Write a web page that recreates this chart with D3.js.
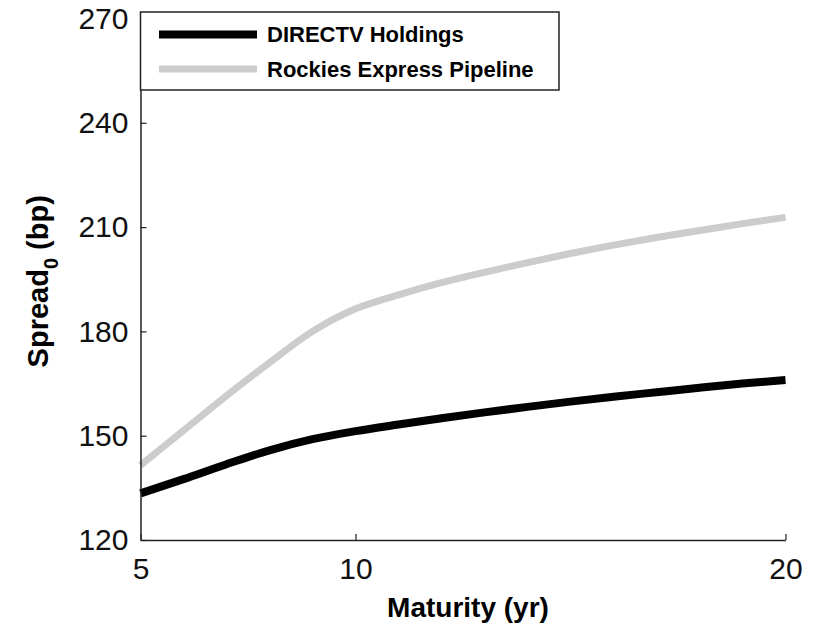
<!DOCTYPE html>
<html>
<head>
<meta charset="utf-8">
<script src="https://cdn.jsdelivr.net/npm/d3@7"></script>
<style>
  body { margin: 0; background: #fff; }
  text { font-family: "Liberation Sans", Arial, sans-serif; }
</style>
</head>
<body>
<script>
// chart size
const width = 814;
const height = 625;
const margin = { top: 18.5, right: 28.5, bottom: 85, left: 140.5 };

// data
const maturities = [5, 6, 7, 8, 9, 10, 11, 12, 13, 14, 15, 16, 17, 18, 19, 20];
const directv = [133.4, 137.5, 141.8, 145.8, 149, 151.3, 153.2, 155, 156.7, 158.3, 159.8, 161.2, 162.5, 163.8, 165, 166];
const rockies = [141.5, 151.5, 161.5, 171, 180, 186.5, 190.5, 194, 197, 199.8, 202.4, 204.8, 207, 209, 211, 212.8];
const xTicks = [5, 10, 20];
const yTicks = [120, 150, 180, 210, 240, 270];

const series = [
  { name: 'DIRECTV Holdings', values: directv, color: '#000000', width: 8 },
  { name: 'Rockies Express Pipeline', values: rockies, color: '#cccccc', width: 7 }
];

const svg = d3.select('body')
  .append('svg')
  .attr('width', width)
  .attr('height', height);

const x = d3.scaleLinear()
  .domain([5, 20])
  .range([margin.left, width - margin.right]);

const y = d3.scaleLinear()
  .domain([120, 270])
  .range([height - margin.bottom, margin.top]);

// lines
const line = d3.line()
  .x((d, i) => x(maturities[i]))
  .y(d => y(d))
  .curve(d3.curveMonotoneX);

svg.selectAll('path.series')
  .data(series)
  .enter()
  .append('path')
  .attr('class', 'series')
  .attr('fill', 'none')
  .attr('stroke', d => d.color)
  .attr('stroke-width', d => d.width)
  .attr('d', d => line(d.values));

// axes (ticks pointing inside, like matlab)
const xAxis = svg.append('g')
  .attr('transform', `translate(0, ${height - margin.bottom})`)
  .call(d3.axisBottom(x).tickValues(xTicks).tickSize(-6).tickPadding(18).tickSizeOuter(0));

const yAxis = svg.append('g')
  .attr('transform', `translate(${margin.left}, 0)`)
  .call(d3.axisLeft(y).tickValues(yTicks).tickSize(-6).tickPadding(12).tickSizeOuter(0));

[xAxis, yAxis].forEach(g => {
  g.select('.domain').attr('stroke', '#222').attr('stroke-width', 1.5);
  g.selectAll('.tick line').attr('stroke', '#222').attr('stroke-width', 1.2);
  g.selectAll('.tick text')
    .attr('font-family', '"Liberation Sans", Arial, sans-serif')
    .attr('font-size', 30)
    .attr('fill', '#111');
});

// axis titles
svg.append('text')
  .attr('x', 468)
  .attr('y', 617)
  .attr('text-anchor', 'middle')
  .attr('font-size', 28)
  .attr('font-weight', 'bold')
  .text('Maturity (yr)');

const ylab = svg.append('text')
  .attr('transform', `translate(48, ${(y(120) + y(270)) / 2 + 2}) rotate(-90)`)
  .attr('text-anchor', 'middle')
  .attr('font-size', 29)
  .attr('font-weight', 'bold');
ylab.append('tspan').text('Spread');
ylab.append('tspan').attr('dy', 10).attr('font-size', 20).text('0');
ylab.append('tspan').attr('dy', -10).text(' (bp)');

// legend
const legend = svg.append('g');
legend.append('rect')
  .attr('x', 140.5)
  .attr('y', 12)
  .attr('width', 418.5)
  .attr('height', 78)
  .attr('fill', '#fff')
  .attr('stroke', '#222')
  .attr('stroke-width', 1.5);

const items = legend.selectAll('g.item')
  .data(series)
  .enter()
  .append('g')
  .attr('class', 'item')
  .attr('transform', (d, i) => `translate(0, ${34.5 + i * 34.5})`);

items.append('line')
  .attr('x1', 159)
  .attr('x2', 257)
  .attr('stroke', d => d.color)
  .attr('stroke-width', d => d.width);

items.append('text')
  .attr('x', 267)
  .attr('dy', '0.35em')
  .attr('font-size', 22)
  .attr('font-weight', 'bold')
  .text(d => d.name);
</script>
</body>
</html>
